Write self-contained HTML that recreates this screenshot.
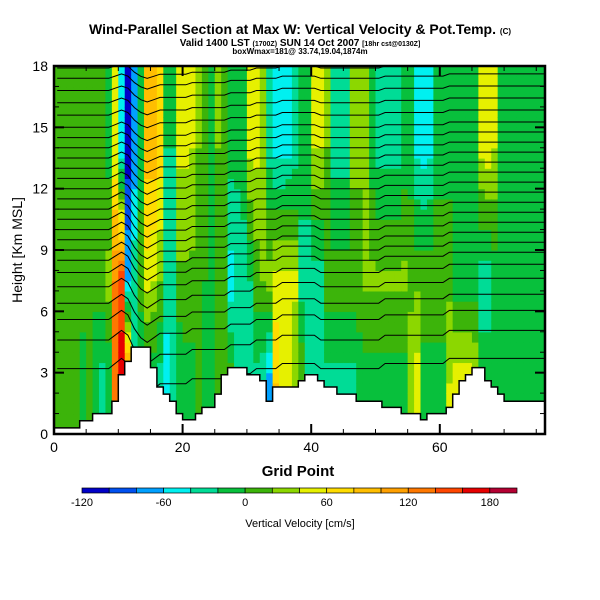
<!DOCTYPE html>
<html><head><meta charset="utf-8"><style>
html,body{margin:0;padding:0;background:#fff;}
svg{display:block;font-family:"Liberation Sans",Arial,sans-serif;}
</style></head><body>
<svg id="chart" width="600" height="600" viewBox="0 0 600 600">
<text x="300" y="34" text-anchor="middle" font-size="14" font-weight="bold">Wind-Parallel Section at Max W: Vertical Velocity &amp; Pot.Temp. <tspan font-size="8">(C)</tspan></text>
<text x="300" y="46" text-anchor="middle" font-size="10" font-weight="bold">Valid 1400 LST <tspan font-size="7">(1700Z)</tspan> SUN 14 Oct 2007 <tspan font-size="7">[18hr cst@0130Z]</tspan></text>
<text x="300" y="54" text-anchor="middle" font-size="8" font-weight="bold">boxWmax=181@ 33.74,19.04,1874m</text>
<defs><clipPath id="plotclip"><rect x="54" y="66" width="491" height="368"/></clipPath></defs>
<g id="cells" clip-path="url(#plotclip)"></g>
<g id="isen" clip-path="url(#plotclip)"></g>
<g id="terrain" clip-path="url(#plotclip)"></g>
<rect x="54" y="66" width="491" height="368" fill="none" stroke="#000" stroke-width="2.5"/>
<g id="ticks"></g>
<text x="298" y="476" text-anchor="middle" font-size="15" font-weight="bold">Grid Point</text>
<text transform="translate(22,250) rotate(-90)" text-anchor="middle" font-size="14">Height [Km MSL]</text>
<g id="cbar"></g>
<text x="300" y="527" text-anchor="middle" font-size="11">Vertical Velocity [cm/s]</text>
</svg>
<script>
const NS="http://www.w3.org/2000/svg";
const wLow=[10,10,5,10,-10,10,-20,-30,-20,120,170,150,-30,-20,-20,-20,-30,-50,-30,-20,-10,-10,0,-10,-10,5,15,15,-30,-30,-30,-30,-40,-70,80,55,55,20,20,-30,-30,-30,-30,-30,-30,-30,-30,-10,-10,-10,-10,-10,-10,-10,-10,30,50,-10,-10,-10,-10,40,50,55,50,40,-10,-10,-10,-10,-10,-10,-10,-10,-10,-10,-10];
const wMid=[10,10,10,10,10,10,10,10,30,120,150,-60,-20,10,50,40,20,-30,-30,15,15,15,15,0,0,0,0,-50,-40,-30,-20,10,20,30,45,50,50,45,-30,-30,-30,-30,10,10,10,10,10,10,25,25,25,25,25,25,25,15,15,15,15,15,15,15,-10,-10,-10,-10,-30,-30,-10,-10,-10,-10,-10,-10,-10,-10,-10];
const wHigh=[10,10,10,10,10,10,10,10,-10,40,-60,-110,-80,-10,90,90,70,-20,-20,45,45,40,20,10,-20,20,10,-10,-10,-10,45,45,35,-30,-45,-50,-45,-35,-10,-10,40,40,20,-30,-30,-30,25,25,25,-10,-30,-30,-30,-30,-10,-10,-45,-50,-45,-10,-10,-10,-10,-10,-10,-10,45,50,40,-10,-10,-10,-10,-10,-10,-10,-10];
const terrainKm=[0.3,0.3,0.3,0.3,0.65,0.65,1,1,1,1.6,2.9,3.55,4.25,4.25,4.25,3.25,2.3,1.95,1.6,1,0.7,0.7,1,1.3,1.3,1.95,2.9,3.25,3.25,3.25,2.9,2.9,2.6,1.6,2.3,2.3,2.3,2.3,2.6,2.9,2.9,2.6,2.3,2.3,1.95,1.95,1.95,1.6,1.6,1.6,1.6,1.3,1.3,1.3,1,1,1,0.7,1,1,1,1.3,1.95,2.6,2.9,3.25,3.25,2.6,2.3,1.95,1.6,1.6,1.6,1.6,1.6,1.6,1.6];
const thetaHeights=[3.2,4.6,5.6,6.4,7.2,7.9,8.5,9.0,9.5,10,10.5,11,11.5,12,12.5,13,13.5,14,14.5,15,15.6,16.2,16.8,17.4,17.9];
const thetaDisp=[0,0,0,0,0,0,0,0,0,0.1,0.2,0.1,-0.2,-0.4,-0.5,-0.4,-0.3,-0.3,-0.3,-0.3,-0.3,-0.2,-0.2,-0.2,-0.2,-0.2,-0.2,-0.1,-0.1,-0.1,-0.1,0,0,0,0,0.1,0.1,0.1,0.1,0.1,0.1,0,0,0,0,0,0,0,0,0,0,0.1,0.1,0.1,0.1,0.1,0.1,0.1,0.1,0.1,0.1,0.2,0.2,0.2,0.2,0.2,0.2,0.2,0.2,0.2,0.2,0.2,0.2,0.2,0.2,0.2,0.2];
const levelEdges=[-120,-100,-80,-60,-40,-20,0,20,40,60,80,100,120,140,160,180,200];
const levelColors=["#0000c8","#0050f0","#00a0ff","#00f0f0","#00dc96","#08c03c","#3cb40a","#8cd700","#e6f000","#ffdc00","#ffbe00","#ffa000","#ff7800","#ff4600","#e60000","#b40032"];
const xTicks=[0,20,40,60];
const yTicks=[0,3,6,9,12,15,18];
const cbarLabels=[-120,-60,0,60,120,180];

const X0=54,X1=545,Y0=434,Y1=66;
const xs=g=>X0+g*(X1-X0)/76.36;
const ys=h=>Y0-h*(Y0-Y1)/18;
function colorFor(v){for(let i=0;i<levelColors.length;i++){if(v<levelEdges[i+1])return levelColors[i];}return levelColors[levelColors.length-1];}
function mk(tag,attrs,parent){const e=document.createElementNS(NS,tag);for(const k in attrs)e.setAttribute(k,attrs[k]);parent.appendChild(e);return e;}
function wAt(i,h){
  if(h<=2.5)return wLow[i];
  if(h<=7.5){const t=(h-2.5)/5;return wLow[i]*(1-t)+wMid[i]*t;}
  if(h<=14){const t=(h-7.5)/6.5;return wMid[i]*(1-t)+wHigh[i]*t;}
  return wHigh[i];
}
const cells=document.getElementById('cells');
for(let i=0;i<wLow.length;i++){
  for(let r=0;r<36;r++){
    const h=r*0.5+0.25;
    const c=mk('rect',{x:xs(i),y:ys(r*0.5+0.5),width:xs(i+1)-xs(i)+0.6,height:ys(0)-ys(0.5)+0.6,fill:colorFor(wAt(i,h))},cells);
    
    
  }
}
const isen=document.getElementById('isen');
thetaHeights.forEach((h0,k)=>{
  const scale=1+(18-h0)/10;
  let d='';
  for(let i=0;i<thetaDisp.length;i++){
    const h=h0+thetaDisp[i]*scale;
    d+=(i?'L':'M')+(xs(i+0.5)).toFixed(1)+' '+ys(h).toFixed(1);
  }
  const p=mk('path',{d:d,fill:'none',stroke:'#000','stroke-width':1},isen);
  
  
});
const ter=document.getElementById('terrain');
let td='M'+xs(0)+' '+ys(0);
for(let i=0;i<terrainKm.length;i++){td+='L'+xs(i).toFixed(1)+' '+ys(terrainKm[i]).toFixed(1)+'L'+xs(i+1).toFixed(1)+' '+ys(terrainKm[i]).toFixed(1);}
td+='L'+xs(terrainKm.length)+' '+ys(0)+'Z';
const tp=mk('path',{d:td,fill:'#fff',stroke:'#000','stroke-width':1.5},ter);



const tk=document.getElementById('ticks');
for(let g=0;g<=75;g+=5){
  const big=g%20===0, L=big?10:5;
  mk('line',{x1:xs(g),x2:xs(g),y1:Y0,y2:Y0-L,stroke:'#000','stroke-width':big?2:1},tk);
  mk('line',{x1:xs(g),x2:xs(g),y1:Y1,y2:Y1+L,stroke:'#000','stroke-width':big?2:1},tk);
}
for(let h=0;h<=18;h++){
  const big=h%3===0, L=big?10:5;
  mk('line',{x1:X0,x2:X0+L,y1:ys(h),y2:ys(h),stroke:'#000','stroke-width':big?2:1},tk);
  mk('line',{x1:X1,x2:X1-L,y1:ys(h),y2:ys(h),stroke:'#000','stroke-width':big?2:1},tk);
}
xTicks.forEach(v=>{
  const t=mk('text',{x:xs(v),y:452,'text-anchor':'middle','font-size':14},tk);t.textContent=v;
  
  
});
yTicks.forEach(v=>{
  const t=mk('text',{x:48,y:ys(v)+5,'text-anchor':'end','font-size':14},tk);t.textContent=v;
  
  
});
const cb=document.getElementById('cbar');
const CB0=82,CB1=517,segW=(CB1-CB0)/levelColors.length;
levelColors.forEach((c,i)=>{
  const r=mk('rect',{x:CB0+i*segW,y:488,width:segW,height:5,fill:c,stroke:'#000','stroke-width':0.7},cb);
  
  
});
cbarLabels.forEach(v=>{
  const x=CB0+(v-levelEdges[0])/(levelEdges[levelEdges.length-1]-levelEdges[0])*(CB1-CB0);
  const t=mk('text',{x:x,y:506,'text-anchor':'middle','font-size':11},cb);t.textContent=v;
  
  
});
</script>
</body></html>
